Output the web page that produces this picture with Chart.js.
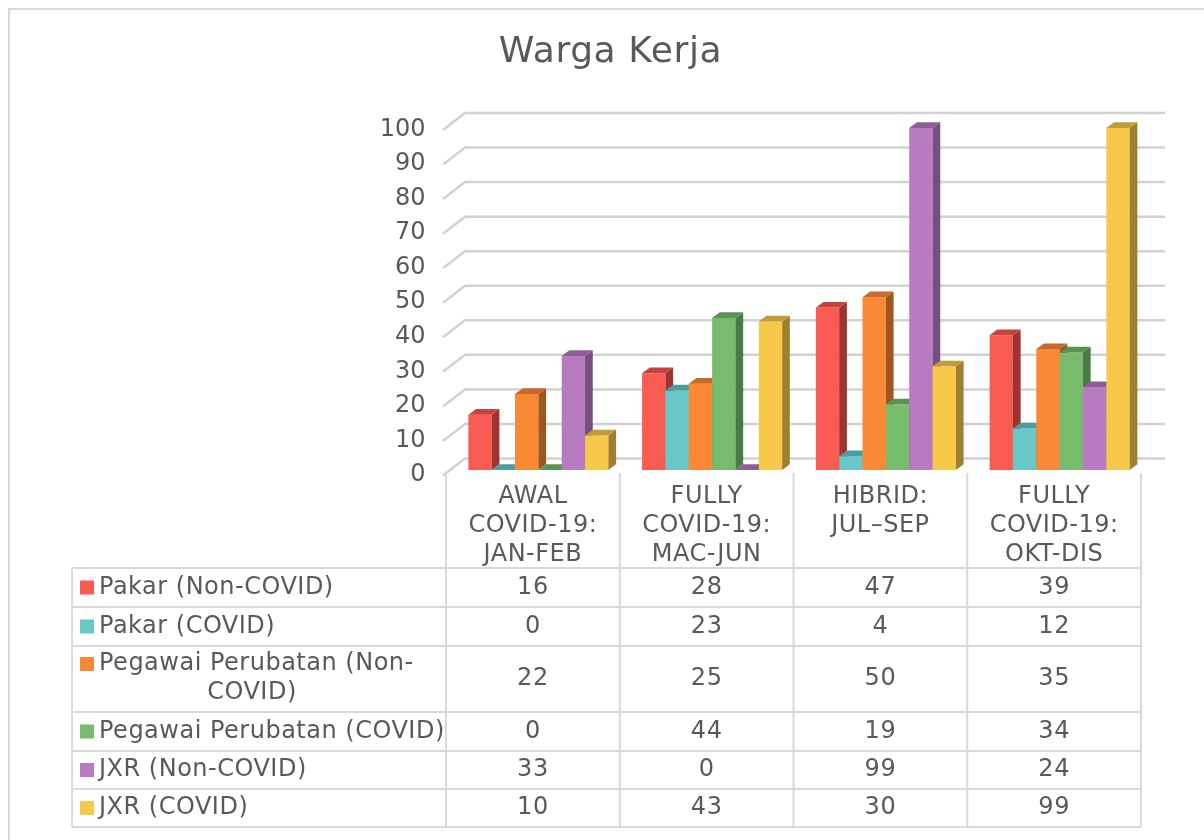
<!DOCTYPE html>
<html>
<head>
<meta charset="utf-8">
<script src="https://cdn.jsdelivr.net/npm/chart.js@4.4.0/dist/chart.umd.min.js"></script>
<style>
  html, body { margin: 0; padding: 0; background: #ffffff; }
  canvas { display: block; }
</style>
</head>
<body>
<canvas id="chart" width="1204" height="840"></canvas>
<script>
// ---- Data ----
const chartTitle = 'Warga Kerja';
const categories = [
  ['AWAL', 'COVID-19:', 'JAN-FEB'],
  ['FULLY', 'COVID-19:', 'MAC-JUN'],
  ['HIBRID:', 'JUL–SEP'],
  ['FULLY', 'COVID-19:', 'OKT-DIS']
];
const seriesNames = [
  ['Pakar (Non-COVID)'],
  ['Pakar (COVID)'],
  ['Pegawai Perubatan (Non-', 'COVID)'],
  ['Pegawai Perubatan (COVID)'],
  ['JXR (Non-COVID)'],
  ['JXR (COVID)']
];
const pakarNonCovid   = [16, 28, 47, 39];
const pakarCovid      = [0, 23, 4, 12];
const pegawaiNonCovid = [22, 25, 50, 35];
const pegawaiCovid    = [0, 44, 19, 34];
const jxrNonCovid     = [33, 0, 99, 24];
const jxrCovid        = [10, 43, 30, 99];
const yTickValues = [0, 10, 20, 30, 40, 50, 60, 70, 80, 90, 100];

const seriesValues = [pakarNonCovid, pakarCovid, pegawaiNonCovid, pegawaiCovid, jxrNonCovid, jxrCovid];

// ---- Styling ----
const FONT = "'DejaVu Sans', Verdana, sans-serif";
const TEXT = '#595959';
const LINE = '#d9d9d9';
const frontColors = ['#f95b53', '#6ac7c8', '#fa8834', '#77bb6c', '#b87bc1', '#f8c84a'];
const topColors   = ['#c8433d', '#4f9c9e', '#c8682a', '#5a9252', '#8e5d96', '#c29c3a'];
const sideColors  = ['#9e3431', '#3f7f80', '#a0561f', '#4a7b45', '#774f7e', '#9e8030'];

const DEPTH = { dx: 7.7, dy: 5.7 };        // bar side/top extrusion
const WALL = { dx: 13.5, dy: -11.5 };      // back wall offset for gridlines
const COL_SHIFT = -5.5;                    // table columns vs bar slots
const TABLE_LEFT = 72;
const HEADER_TOP = 473;
const ROWS_TOP = 568;
const ROW_HEIGHTS = [39, 39, 66, 39, 38, 38];

function poly(ctx, pts, fill) {
  ctx.beginPath();
  ctx.moveTo(pts[0][0], pts[0][1]);
  for (let i = 1; i < pts.length; i++) ctx.lineTo(pts[i][0], pts[i][1]);
  ctx.closePath();
  ctx.fillStyle = fill;
  ctx.fill();
}

const threeD = {
  id: 'threeD',
  beforeDatasetsDraw(chart) {
    const ctx = chart.ctx;
    const y = chart.scales.y, area = chart.chartArea;
    ctx.save();
    // outer frame
    ctx.strokeStyle = LINE;
    ctx.lineWidth = 2;
    ctx.strokeRect(9, 9, 1400, 1000);
    // back-wall gridlines with the short diagonal on the side wall
    ctx.strokeStyle = '#d2d2d2';
    ctx.lineWidth = 2.5;
    yTickValues.forEach(v => {
      const py = y.getPixelForValue(v);
      ctx.beginPath();
      ctx.moveTo(area.left - 8.5, py + 5.5);
      ctx.lineTo(area.left + WALL.dx, py + WALL.dy);
      ctx.lineTo(area.right + 18.5, py + WALL.dy);
      ctx.stroke();
    });
    ctx.restore();
  },
  // columns are painted left to right below, so each bar hides the side of its neighbour
  beforeDatasetDraw() {
    return false;
  },
  afterDatasetsDraw(chart) {
    const ctx = chart.ctx;
    const area = chart.chartArea;
    ctx.save();
    for (let i = 0; i < chart.data.datasets.length; i++) {
      const meta = chart.getDatasetMeta(i);
      meta.data.forEach(el => {
        el.draw(ctx, area);
        const p = el.getProps(['x', 'y', 'base', 'width'], true);
        const l = p.x - p.width / 2, r = p.x + p.width / 2;
        const top = Math.min(p.y, p.base), base = Math.max(p.y, p.base);
        poly(ctx, [[r, top], [r + DEPTH.dx, top - DEPTH.dy], [r + DEPTH.dx, base - DEPTH.dy], [r, base]], sideColors[i]);
        poly(ctx, [[l, top], [l + DEPTH.dx, top - DEPTH.dy], [r + DEPTH.dx, top - DEPTH.dy], [r, top]], topColors[i]);
      });
    }
    ctx.restore();
  },
  afterDraw(chart) {
    const ctx = chart.ctx;
    const x = chart.scales.x;
    const step = (x.right - x.left) / categories.length;
    const edges = [];
    for (let c = 0; c <= categories.length; c++) edges.push(x.left + c * step + COL_SHIFT);

    ctx.save();
    // title
    ctx.fillStyle = TEXT;
    ctx.font = `36px ${FONT}`;
    ctx.textAlign = 'center';
    ctx.textBaseline = 'middle';
    ctx.letterSpacing = '0.6px';
    ctx.fillText(chartTitle, 610.5, 53);

    // data table grid
    const rowTops = [ROWS_TOP];
    ROW_HEIGHTS.forEach(h => rowTops.push(rowTops[rowTops.length - 1] + h));
    const bottom = rowTops[rowTops.length - 1];
    ctx.strokeStyle = LINE;
    ctx.lineWidth = 2;
    ctx.beginPath();
    rowTops.forEach(t => { ctx.moveTo(TABLE_LEFT, t); ctx.lineTo(edges[edges.length - 1], t); });
    ctx.moveTo(TABLE_LEFT, ROWS_TOP); ctx.lineTo(TABLE_LEFT, bottom);
    edges.forEach((e, k) => { ctx.moveTo(e, k === 0 ? HEADER_TOP + 2 : HEADER_TOP); ctx.lineTo(e, bottom); });
    ctx.stroke();

    ctx.font = `24px ${FONT}`;
    ctx.letterSpacing = '0.5px';
    ctx.fillStyle = TEXT;
    // category header
    categories.forEach((lines, c) => {
      const cx = (edges[c] + edges[c + 1]) / 2;
      lines.forEach((t, j) => ctx.fillText(t, cx, 497 + j * 29));
    });
    // rows: legend key, series name, values
    seriesNames.forEach((lines, s) => {
      const top = rowTops[s], h = ROW_HEIGHTS[s];
      const firstY = lines.length > 1 ? top + 18 : top + h / 2;
      ctx.fillStyle = frontColors[s];
      ctx.fillRect(80, firstY - 7, 14, 14);
      ctx.fillStyle = TEXT;
      ctx.textAlign = 'left';
      ctx.fillText(lines[0], 99, firstY);
      if (lines.length > 1) {
        ctx.textAlign = 'center';
        ctx.fillText(lines[1], 252, firstY + 29);
      }
      ctx.textAlign = 'center';
      seriesValues[s].forEach((v, c) => {
        ctx.fillText(String(v), (edges[c] + edges[c + 1]) / 2, top + h / 2);
      });
    });
    ctx.restore();
  }
};

new Chart(document.getElementById('chart'), {
  type: 'bar',
  data: {
    labels: categories,
    datasets: seriesValues.map((vals, i) => ({
      label: seriesNames[i].join(' '),
      data: vals,
      backgroundColor: frontColors[i],
      borderWidth: 0,
      categoryPercentage: 0.806,
      barPercentage: 1.0
    }))
  },
  options: {
    responsive: false,
    animation: false,
    layout: { padding: { left: 0, right: 57.5, top: 124.5, bottom: 370 } },
    plugins: { legend: { display: false }, title: { display: false }, tooltip: { enabled: false } },
    scales: {
      x: { display: false },
      y: {
        min: 0,
        max: 100,
        afterBuildTicks: s => { s.ticks = yTickValues.map(v => ({ value: v })); },
        afterFit: s => { s.width = 451.5; },
        grid: { display: false, drawTicks: false },
        border: { display: false },
        ticks: {
          color: TEXT,
          font: { family: FONT, size: 24 },
          padding: 26,
          labelOffset: 5
        }
      }
    }
  },
  plugins: [threeD]
});
</script>
</body>
</html>
